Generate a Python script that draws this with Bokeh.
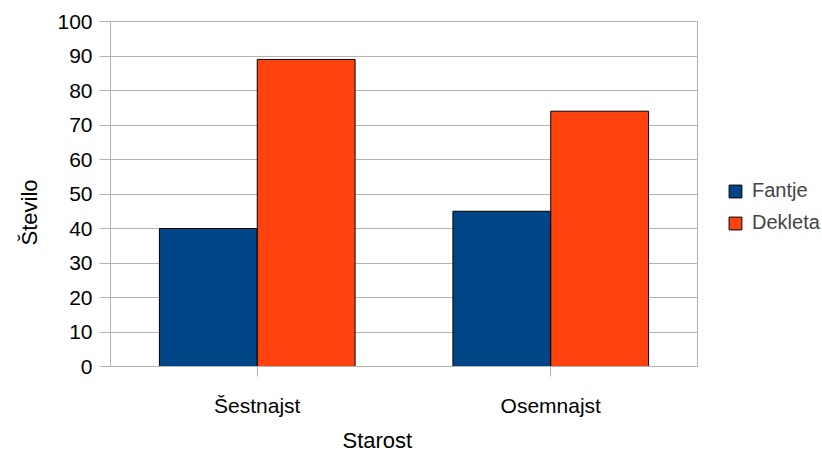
from bokeh.plotting import figure
from bokeh.models import FactorRange, Legend, LegendItem, Range1d, FixedTicker, Title
from bokeh.transform import dodge
from bokeh.embed import file_html
from bokeh.resources import INLINE

categories = ["Šestnajst", "Osemnajst"]
fantje = [40, 45]
dekleta = [89, 74]
series_names = ["Fantje", "Dekleta"]
y_ticks = [0, 10, 20, 30, 40, 50, 60, 70, 80, 90, 100]
x_title = "Starost"
y_title = "Število"

FONT = "Liberation Sans"
GRID = "#b3b3b3"

p = figure(x_range=FactorRange(*categories), y_range=Range1d(0, 100),
           width=820, height=450, frame_width=587, frame_height=345,
           min_border_left=110, min_border_top=21, min_border_right=0, min_border_bottom=0,
           output_backend="svg", toolbar_location=None)

src = dict(cat=categories, fantje=fantje, dekleta=dekleta)
r1 = p.vbar(x=dodge("cat", -1/6, range=p.x_range), top="fantje", width=1/3, source=src,
            fill_color="#004586", line_color="#000000", line_width=1)
r2 = p.vbar(x=dodge("cat", 1/6, range=p.x_range), top="dekleta", width=1/3, source=src,
            fill_color="#ff420e", line_color="#000000", line_width=1)

p.xgrid.visible = False
p.ygrid.grid_line_color = GRID
p.ygrid.grid_line_width = 1
p.yaxis.ticker = FixedTicker(ticks=y_ticks)
p.outline_line_color = GRID

for ax in (p.xaxis[0], p.yaxis[0]):
    ax.axis_line_color = GRID
    ax.major_tick_line_color = GRID
    ax.minor_tick_line_color = None
    ax.major_tick_in = 0
    ax.major_label_text_font = FONT
    ax.major_label_text_font_size = "21px"
    ax.major_label_text_color = "#000000"

p.yaxis.major_tick_out = 11
p.yaxis.major_label_standoff = 7
p.xaxis.major_tick_out = 10
p.xaxis.major_label_standoff = 17

tx = Title(text=x_title, align="left", offset=232, standoff=12,
           text_font=FONT, text_font_size="22px", text_font_style="normal",
           text_color="#000000")
p.add_layout(tx, "below")
ty = Title(text=y_title, align="left", offset=121, standoff=25,
           text_font=FONT, text_font_size="22px", text_font_style="normal",
           text_color="#000000")
p.add_layout(ty, "left")

legend = Legend(items=[LegendItem(label=series_names[0], renderers=[r1]),
                       LegendItem(label=series_names[1], renderers=[r2])],
                location=(30, 132), orientation="vertical",
                glyph_width=16, glyph_height=16, label_height=16, spacing=9,
                padding=0, margin=0, label_standoff=9,
                label_text_font=FONT, label_text_font_size="20px",
                border_line_color=None, background_fill_alpha=0)
p.add_layout(legend, "right")

open("out.html", "w").write(file_html(p, INLINE))
